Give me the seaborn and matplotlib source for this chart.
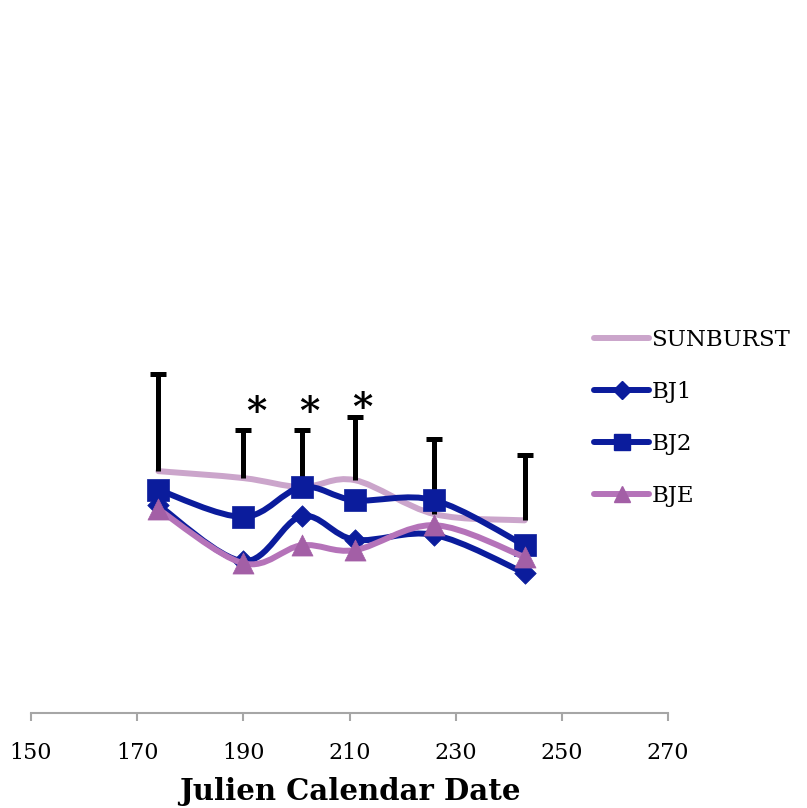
import numpy as np
import pandas as pd
import matplotlib
matplotlib.use("Agg")
import matplotlib.pyplot as plt
from matplotlib.path import Path
from matplotlib.patches import PathPatch
from matplotlib.lines import Line2D
import seaborn as sns

# Data (y in arbitrary units, axis hidden)
days = [174, 190, 201, 211, 226, 243]
sunburst = [34.9, 33.9, 32.6, 33.6, 28.7, 27.8]
sunburst_err = [14.0, 6.9, 8.2, 9.1, 10.8, 9.4]
bj1 = [30.0, 21.9, 28.4, 25.0, 25.7, 20.2]
bj2 = [32.2, 28.3, 32.6, 30.7, 30.7, 24.2]
bje = [29.4, 21.6, 24.2, 23.5, 27.1, 22.5]
star_days = [192.5, 202.5, 212.5]
star_y = [43.3, 43.3, 43.8]
xticks = [150, 170, 190, 210, 230, 250, 270]

C_SUN = "#CBA5CB"
C_BLUE = "#0B1C9C"
C_BJE_LINE = "#B573B9"
C_BJE_MARK = "#A35FA6"


def smooth_path(x, y):
    # Excel-style smoothed line: cubic Bezier through the points
    pts = np.column_stack([x, y]).astype(float)
    n = len(pts)
    verts = [pts[0]]
    codes = [Path.MOVETO]
    for i in range(n - 1):
        p0 = pts[i - 1] if i > 0 else pts[i]
        p1 = pts[i]
        p2 = pts[i + 1]
        p3 = pts[i + 2] if i + 2 < n else pts[i + 1]
        c1 = p1 + (p2 - p0) / 6.0
        c2 = p2 - (p3 - p1) / 6.0
        verts += [c1, c2, p2]
        codes += [Path.CURVE4] * 3
    return Path(verts, codes)


sns.set_style("white")
plt.rcParams["font.family"] = ["DejaVu Serif"]
plt.rcParams["text.color"] = "black"
plt.rcParams["axes.labelcolor"] = "black"
plt.rcParams["xtick.color"] = "black"

fig = plt.figure(figsize=(8.07, 8.08), dpi=100)
ax = fig.add_axes([31 / 807, 1 - 713 / 808, (668 - 31) / 807, (713 - 20) / 808])
ax.set_xlim(150, 270)
ax.set_ylim(0, 100)

df = pd.DataFrame({"day": days, "SUNBURST": sunburst, "BJ1": bj1,
                   "BJ2": bj2, "BJE": bje})

# SUNBURST line with upper-only error bars
ax.add_patch(PathPatch(smooth_path(days, sunburst), fill=False,
                       edgecolor=C_SUN, lw=4.3, capstyle="round", zorder=2))
err_top = np.array(sunburst) + np.array(sunburst_err)
ax.vlines(days, sunburst, err_top, color="black", lw=3.6, zorder=2.5)
ax.plot(days, err_top, ls="none", marker="_", ms=11, mew=3.6,
        color="black", zorder=2.5)

series = [("BJ1", C_BLUE, C_BLUE, "D", 120),
          ("BJ2", C_BLUE, C_BLUE, "s", 230),
          ("BJE", C_BJE_LINE, C_BJE_MARK, "^", 230)]
for i, (name, lc, mc, mk, ms) in enumerate(series):
    z = 3 + i
    ax.add_patch(PathPatch(smooth_path(df["day"], df[name]), fill=False,
                           edgecolor=lc, lw=4.3, capstyle="round", zorder=z))
    sns.scatterplot(data=df, x="day", y=name, marker=mk, s=ms, color=mc,
                    edgecolor=mc, linewidth=0.5, ax=ax, zorder=z + 0.5,
                    legend=False)

for sx, sy in zip(star_days, star_y):
    ax.text(sx, sy, "*", fontsize=28, fontweight="bold", ha="center",
            va="center", zorder=8)

# axes styling: only bottom axis visible
for side in ["left", "right", "top"]:
    ax.spines[side].set_visible(False)
ax.spines["bottom"].set_color("#A6A6A6")
ax.spines["bottom"].set_linewidth(1.5)
ax.set_yticks([])
ax.set_xticks(xticks)
ax.tick_params(axis="x", bottom=True, direction="out", length=6, width=1.5,
               color="#A6A6A6", labelcolor="black", labelsize=16, pad=15)
ax.set_xlabel("Julien Calendar Date", fontsize=21, fontweight="bold",
              labelpad=9)
ax.set_ylabel("")

handles = [
    Line2D([], [], color=C_SUN, lw=4.3, solid_capstyle="round"),
    Line2D([], [], color=C_BLUE, lw=4.3, marker="D", markersize=9,
           solid_capstyle="round"),
    Line2D([], [], color=C_BLUE, lw=4.3, marker="s", markersize=11,
           solid_capstyle="round"),
    Line2D([], [], color=C_BJE_LINE, lw=4.3, marker="^", markersize=12,
           markerfacecolor=C_BJE_MARK, markeredgecolor=C_BJE_MARK,
           solid_capstyle="round"),
]
fig.legend(handles, ["SUNBURST", "BJ1", "BJ2", "BJE"],
           loc="upper left", bbox_to_anchor=(585 / 807, 1 - 320 / 808),
           frameon=False, fontsize=16.5, handlelength=2.4, handletextpad=0.1,
           labelspacing=1.3, borderaxespad=0)

fig.savefig("out.png", dpi=100)
